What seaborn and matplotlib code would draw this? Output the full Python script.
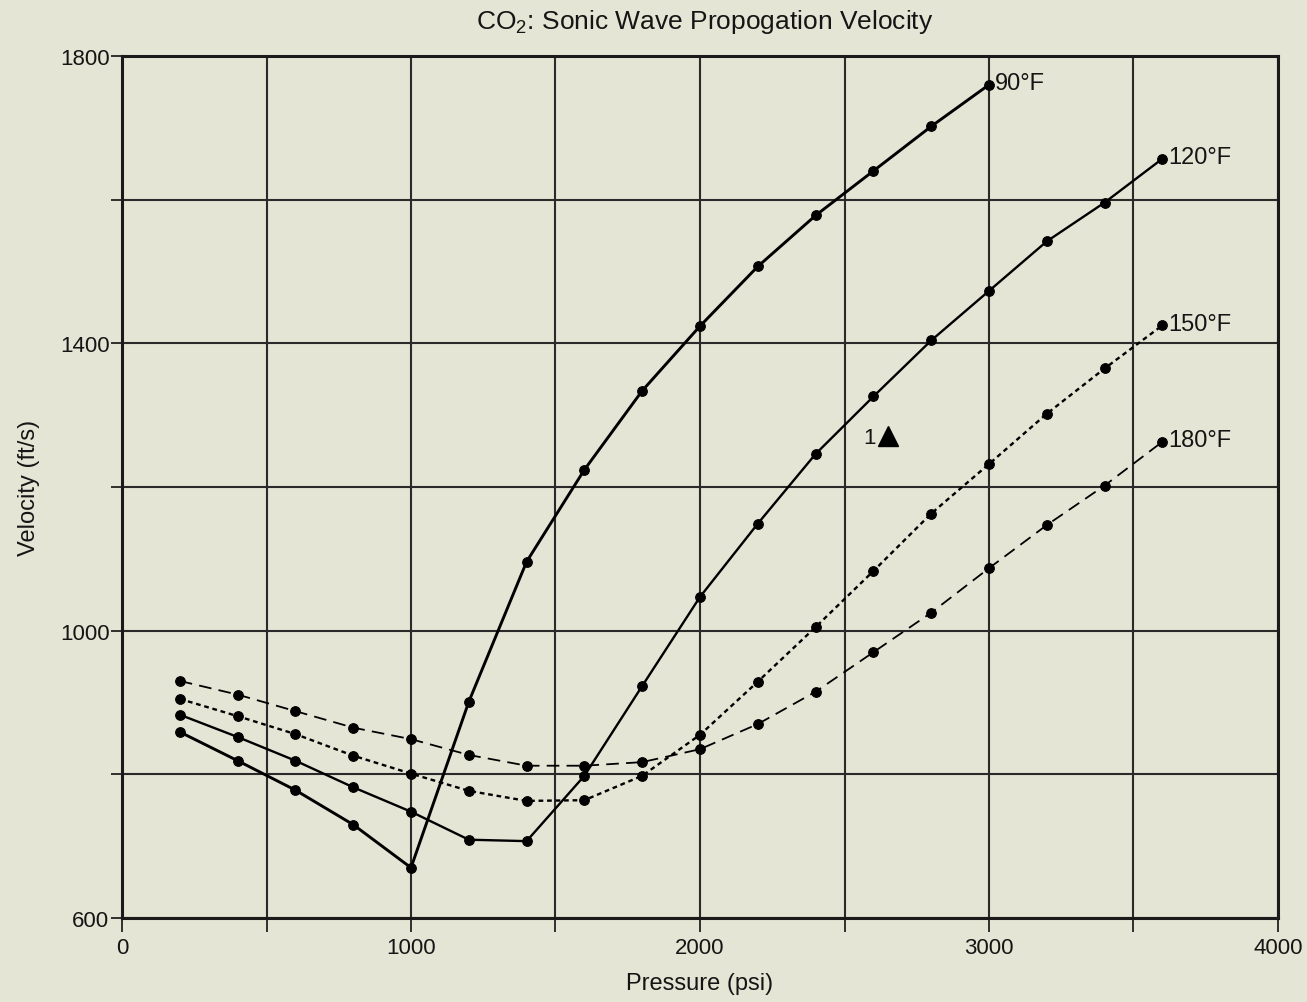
import matplotlib
matplotlib.use("Agg")
import matplotlib.pyplot as plt
import seaborn as sns
import pandas as pd
import numpy as np
from matplotlib.ticker import MultipleLocator

# ---- data ----
pressure_90 = [200, 400, 600, 800, 1000, 1200, 1400, 1600, 1800, 2000, 2200, 2400, 2600, 2800, 3000]
velocity_90 = [859, 819, 778, 730, 670, 901, 1096, 1224, 1334, 1424, 1507, 1578, 1640, 1702, 1760]

pressure_120 = [200, 400, 600, 800, 1000, 1200, 1400, 1600, 1800, 2000, 2200, 2400, 2600, 2800, 3000, 3200, 3400, 3600]
velocity_120 = [883, 852, 819, 782, 748, 709, 707, 798, 923, 1047, 1149, 1246, 1326, 1404, 1473, 1542, 1596, 1657]

pressure_150 = [200, 400, 600, 800, 1000, 1200, 1400, 1600, 1800, 2000, 2200, 2400, 2600, 2800, 3000, 3200, 3400, 3600]
velocity_150 = [905, 881, 856, 826, 801, 777, 763, 764, 798, 855, 929, 1005, 1083, 1163, 1232, 1302, 1365, 1425]

pressure_180 = [200, 400, 600, 800, 1000, 1200, 1400, 1600, 1800, 2000, 2200, 2400, 2600, 2800, 3000, 3200, 3400, 3600]
velocity_180 = [930, 911, 888, 865, 849, 827, 812, 812, 817, 835, 870, 915, 970, 1025, 1087, 1147, 1202, 1263]

series_labels = ["90°F", "120°F", "150°F", "180°F"]
marker_label = "1"
marker_point = (2650, 1271)

title = r"CO$_\mathrm{2}$: Sonic Wave Propogation Velocity"
xlabel = "Pressure (psi)"
ylabel = "Velocity (ft/s)"
x_ticks = [0, 1000, 2000, 3000, 4000]
y_ticks = [600, 1000, 1400, 1800]

# ---- style ----
bg = "#e5e5d5"
txt = "#151515"
sns.set_theme(style="white")
plt.rcParams["font.family"] = ["Liberation Sans", "DejaVu Sans"]
plt.rcParams["mathtext.fontset"] = "custom"
plt.rcParams["mathtext.rm"] = "Liberation Sans"
plt.rcParams["mathtext.it"] = "Liberation Sans:italic"

fig = plt.figure(figsize=(13.07, 10.03), dpi=100, facecolor=bg)
ax = fig.add_axes([122/1307, 1 - 919/1003, (1278-122)/1307, (919-57)/1003])
ax.set_facecolor(bg)

series = [
    (pressure_90, velocity_90, "-", 2.1),
    (pressure_120, velocity_120, "-", 1.7),
    (pressure_150, velocity_150, (0, (2.0, 1.6)), 1.7),
    (pressure_180, velocity_180, (0, (7, 4)), 1.3),
]
for (px, vy, ls, lw), lab in zip(series, series_labels):
    df = pd.DataFrame({"p": px, "v": vy})
    sns.lineplot(data=df, x="p", y="v", ax=ax, color="black", linestyle=ls,
                 linewidth=lw, marker="o", markersize=7, markeredgecolor="black",
                 markerfacecolor="black", sort=False, estimator=None, zorder=3)
    ax.annotate(lab, xy=(px[-1], vy[-1]), xytext=(4, 1), textcoords="offset points",
                ha="left", va="center", fontsize=17, color=txt)

ax.plot([marker_point[0]], [marker_point[1]], marker="^", color="black",
        markersize=14, linestyle="none", zorder=4)
ax.annotate(marker_label, xy=marker_point, xytext=(-9, -1), textcoords="offset points",
            ha="right", va="center", fontsize=16, color=txt)

ax.set_xlim(0, 4000)
ax.set_ylim(600, 1800)
ax.xaxis.set_minor_locator(MultipleLocator(500))
ax.yaxis.set_minor_locator(MultipleLocator(200))
ax.set_xticks(x_ticks)
ax.set_yticks(y_ticks)
ax.grid(True, which="both", color="#2a2a2a", linewidth=1.5, zorder=1)
ax.set_axisbelow(True)
ax.tick_params(axis="x", which="both", direction="out", length=10, width=1.3,
               color="#222222", labelsize=16, labelcolor=txt, pad=4, bottom=True)
ax.tick_params(axis="y", which="both", direction="out", length=8, width=1.3,
               color="#222222", labelsize=16, labelcolor=txt, pad=1, left=True)
for s in ax.spines.values():
    s.set_color("#1a1a1a")
    s.set_linewidth(2.2)
    s.set_visible(True)

ax.set_xlabel(xlabel, fontsize=17, labelpad=10, color=txt)
ax.set_ylabel(ylabel, fontsize=17, labelpad=14, color=txt)
fig.text(705/1307, 1 - 22/1003, title, ha="center", va="center", fontsize=19, color=txt)

fig.savefig("out.png", dpi=100, facecolor=bg)
